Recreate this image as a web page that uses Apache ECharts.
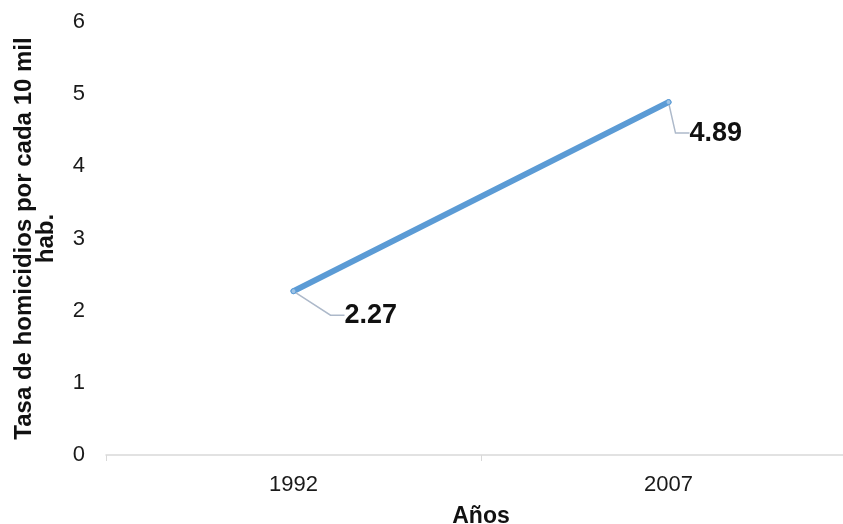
<!DOCTYPE html>
<html>
<head>
<meta charset="utf-8">
<script src="https://cdn.jsdelivr.net/npm/echarts@6/dist/echarts.min.js"></script>
<style>
  html, body { margin: 0; padding: 0; background: #fff; }
  #chart { width: 843px; height: 524px; }
</style>
</head>
<body>
<div id="chart"></div>
<script>
var years = ['1992', '2007']
var rates = [2.27, 4.89]
var yTicks = { min: 0, max: 6, interval: 1 }

var chart = echarts.init(document.getElementById('chart'))
var font = 'Liberation Sans, Arial, sans-serif'

var option = {
  animation: false,
  grid: { left: 106, right: -13, top: 22, bottom: 69, containLabel: false, outerBoundsMode: 'none' },
  xAxis: {
    type: 'category',
    data: years,
    boundaryGap: true,
    name: 'Años',
    nameLocation: 'middle',
    nameGap: 50,
    nameTextStyle: { fontFamily: font, fontSize: 23, fontWeight: 'bold', color: '#111' },
    axisLine: { show: true, lineStyle: { color: '#D9D9D9', width: 1.5 } },
    axisTick: { show: true, length: 6, lineStyle: { color: '#D9D9D9' } },
    axisLabel: { fontFamily: font, fontSize: 22, color: '#1a1a1a', margin: 19 },
    splitLine: { show: false },
  },
  yAxis: {
    type: 'value',
    min: yTicks.min,
    max: yTicks.max,
    interval: yTicks.interval,
    name: 'Tasa de homicidios por cada 10 mil\nhab.',
    nameLocation: 'middle',
    nameGap: 49,
    nameTextStyle: { fontFamily: font, fontSize: 24, fontWeight: 'bold', color: '#111', lineHeight: 22 },
    axisLine: { show: false },
    axisTick: { show: false },
    axisLabel: { fontFamily: font, fontSize: 22, color: '#1a1a1a', margin: 21 },
    splitLine: { show: false },
  },
  series: [
    {
      type: 'line',
      data: rates,
      symbol: 'circle',
      symbolSize: 5,
      itemStyle: { color: '#9DC3E6', borderColor: '#5B9BD5', borderWidth: 1 },
      lineStyle: { color: '#5B9BD5', width: 6, cap: 'round' },
      label: {
        show: true,
        position: 'right',
        distance: 0,
        fontFamily: font,
        fontSize: 27,
        fontWeight: 'bold',
        color: '#111',
        formatter: function (p) { return p.value.toFixed(2) },
      },
      labelLine: { show: true, length2: 14, lineStyle: { color: '#ADB9CA', width: 1.5 } },
      labelLayout: function (p) {
        return p.dataIndex === 0 ? { dx: 48, dy: 24 } : { dx: 18, dy: 31 }
      },
    },
  ],
}

chart.setOption(option)
</script>
</body>
</html>
